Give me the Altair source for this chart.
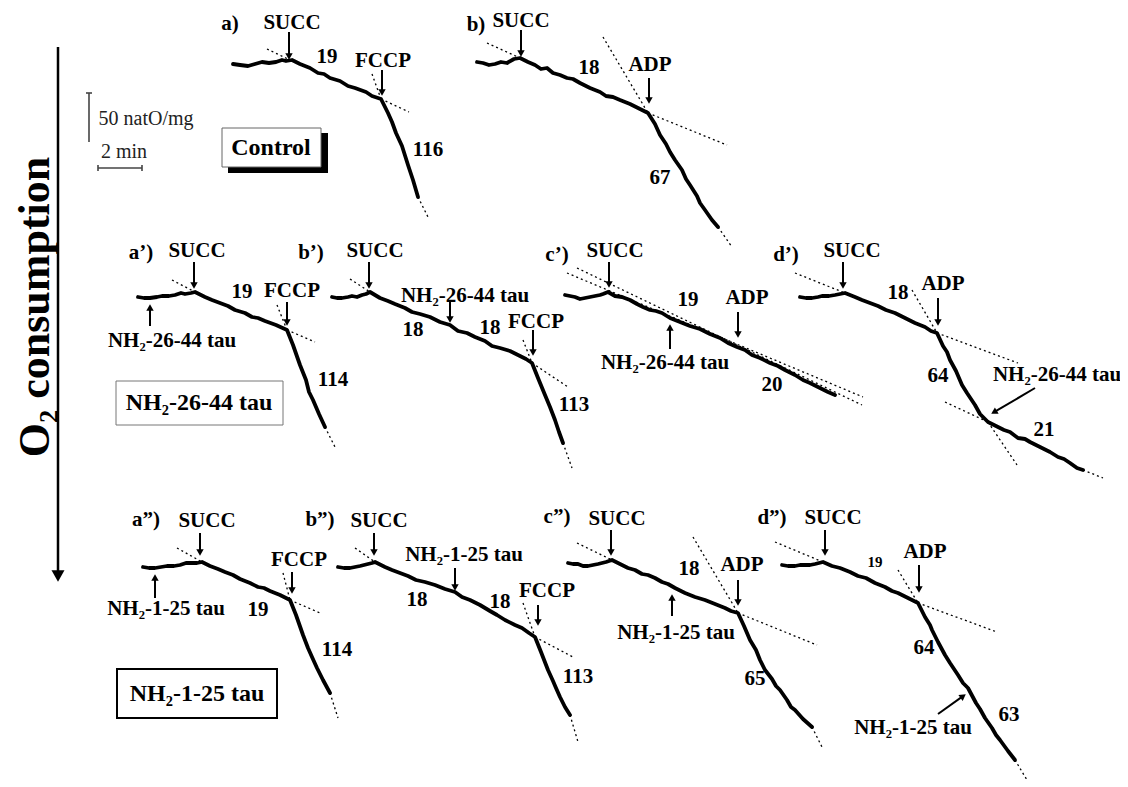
import math
import altair as alt
import pandas as pd

# ---------------- data (figure pixel coordinates) -------------
# O2 electrode traces (x, y) ; y grows downward
TRACE_A = [(233, 64), (240, 65), (248, 66), (255, 64), (262, 62), (269, 63), (276, 62),
           (282, 60), (286, 61), (292, 60),
           (300, 64), (310, 68), (318, 73), (324, 74), (330, 78), (340, 81), (348, 86),
           (355, 88), (366, 92), (372, 96), (381, 99),
           (388, 113), (392, 122), (396, 133), (402, 146), (408, 165), (413, 180), (418, 197)]
TRACE_B = [(477, 62), (483, 63), (489, 65), (495, 64), (501, 62), (507, 63), (514, 59),
           (520, 58),
           (528, 62), (535, 65), (541, 69), (547, 68), (553, 73), (560, 75), (567, 78),
           (573, 79), (580, 83), (590, 88), (600, 92), (606, 96), (613, 97), (620, 100),
           (630, 104), (638, 108), (648, 113),
           (655, 124), (660, 135), (666, 144), (670, 152), (675, 160), (682, 170), (686, 179),
           (690, 185), (697, 196), (700, 203), (705, 210), (712, 220), (718, 227)]
TRACE_A1 = [(138, 297), (144, 298), (150, 298), (157, 297), (162, 296), (169, 296),
            (175, 295), (181, 293), (185, 294), (191, 293), (195, 292),
            (205, 297), (212, 300), (220, 303), (228, 306), (235, 310), (245, 313),
            (252, 317), (258, 318), (265, 321), (276, 325), (287, 330),
            (293, 345), (300, 365), (306, 380), (309, 392), (313, 400), (319, 414), (325, 427)]
TRACE_B1 = [(332, 297), (337, 298), (342, 298), (348, 297), (352, 296), (357, 297),
            (362, 295), (366, 294), (370, 292),
            (380, 298), (388, 301), (395, 304), (405, 308), (412, 312), (420, 314),
            (430, 317), (440, 322), (450, 325), (458, 331), (467, 333), (475, 337),
            (485, 341), (492, 346), (500, 348), (510, 351), (520, 356), (526, 359), (532, 363),
            (538, 378), (545, 395), (550, 407), (555, 420), (559, 432), (563, 443)]
TRACE_C1 = [(565, 295), (570, 296), (575, 297), (580, 299), (585, 298), (590, 297),
            (595, 296), (600, 295), (603, 294), (608, 292),
            (615, 296), (622, 297), (630, 300), (637, 304), (643, 307), (650, 310),
            (656, 311), (662, 313), (670, 318), (680, 322), (690, 326), (700, 329),
            (710, 334), (720, 338), (728, 343), (737, 347),
            (745, 350), (752, 355), (760, 358), (770, 363), (778, 366), (785, 370),
            (795, 375), (803, 380), (810, 383), (820, 388), (828, 392), (835, 395)]
TRACE_D1 = [(800, 297), (806, 298), (812, 298), (818, 297), (822, 296), (829, 296),
            (835, 295), (840, 294), (845, 293),
            (855, 297), (862, 300), (870, 303), (878, 306), (886, 310), (895, 313),
            (905, 318), (915, 323), (925, 327), (931, 331), (937, 333),
            (943, 346), (947, 352), (950, 360), (956, 371), (962, 385), (967, 393),
            (975, 405), (980, 414), (988, 422),
            (996, 426), (1004, 430), (1010, 432), (1018, 438), (1025, 439), (1030, 442),
            (1040, 447), (1050, 452), (1058, 457), (1064, 459), (1070, 463), (1077, 468),
            (1083, 470)]
TRACE_A2 = [(143, 567), (149, 568), (155, 568), (161, 567), (167, 566), (174, 566),
            (180, 565), (186, 563), (192, 563), (197, 563), (202, 562),
            (210, 566), (218, 569), (225, 572), (233, 575), (240, 579), (250, 583),
            (258, 587), (264, 588), (270, 591), (280, 595), (290, 600),
            (296, 615), (303, 635), (308, 648), (312, 657), (317, 668), (323, 680), (330, 693)]
TRACE_B2 = [(338, 567), (344, 568), (350, 568), (355, 567), (360, 566), (364, 565),
            (368, 564), (372, 563), (375, 562),
            (385, 567), (392, 570), (400, 573), (408, 576), (416, 580), (425, 582),
            (435, 585), (445, 589), (455, 592), (462, 597), (470, 600), (480, 605),
            (490, 611), (497, 615), (505, 620), (515, 625), (522, 628), (529, 633), (535, 637),
            (541, 652), (548, 670), (553, 681), (556, 688), (560, 697), (565, 707), (570, 715)]
TRACE_C2 = [(568, 563), (573, 564), (578, 564), (583, 566), (588, 566), (593, 565),
            (598, 564), (602, 563), (606, 562), (612, 560),
            (620, 564), (628, 568), (635, 570), (642, 574), (648, 575), (655, 578),
            (662, 582), (668, 584), (675, 588), (685, 593), (695, 597), (705, 600),
            (715, 604), (725, 608), (731, 611), (738, 613),
            (744, 626), (750, 640), (756, 650), (760, 660), (765, 670), (772, 679),
            (776, 686), (780, 690), (787, 700), (791, 707), (795, 710), (803, 719), (812, 727)]
TRACE_D2 = [(782, 565), (788, 566), (795, 566), (800, 565), (805, 565), (810, 565),
            (815, 564), (819, 563), (823, 562),
            (832, 566), (840, 568), (850, 572), (858, 576), (866, 578), (875, 583),
            (885, 587), (892, 591), (898, 593), (908, 598), (918, 603),
            (925, 617), (930, 625), (932, 630), (938, 642), (945, 655), (950, 663),
            (958, 675), (963, 683), (968, 688),
            (976, 703), (980, 709), (985, 718), (992, 728), (996, 735), (1000, 740),
            (1008, 751), (1015, 760)]
TRACES = {"a": TRACE_A, "b": TRACE_B, "a1": TRACE_A1, "b1": TRACE_B1, "c1": TRACE_C1,
          "d1": TRACE_D1, "a2": TRACE_A2, "b2": TRACE_B2, "c2": TRACE_C2, "d2": TRACE_D2}

# dotted tangent lines (x1, y1, x2, y2)
DOTTED = [
    (267, 49, 292, 61), (381, 99, 409, 112), (372, 74, 381, 99), (418, 197, 428, 217),
    (487, 43, 520, 58), (648, 113, 727, 145), (603, 37, 648, 113), (718, 227, 732, 247),
    (172, 280, 195, 292), (287, 330, 315, 342), (277, 305, 287, 330), (325, 427, 335, 447),
    (350, 279, 370, 292), (532, 363, 568, 387), (523, 340, 532, 363), (563, 443, 572, 468),
    (567, 273, 863, 397), (577, 268, 862, 405),
    (795, 273, 845, 293), (937, 333, 1018, 363), (912, 290, 937, 333),
    (945, 402, 988, 422), (988, 422, 1017, 465), (1083, 470, 1103, 478),
    (177, 548, 202, 562), (290, 600, 320, 613), (283, 573, 290, 600), (330, 693, 338, 718),
    (355, 548, 375, 562), (535, 637, 573, 657), (523, 603, 535, 637), (570, 715, 578, 742),
    (577, 543, 612, 560), (738, 613, 817, 645), (693, 537, 738, 613), (812, 727, 822, 747),
    (775, 542, 823, 562), (918, 603, 997, 632), (898, 570, 918, 603), (1015, 760, 1030, 785),
]

# addition arrows (tail x, tail y, tip x, tip y)
ARROWS = [
    (289, 32, 289, 60), (382, 70, 382, 96),
    (521, 30, 521, 57), (649, 78, 649, 104),
    (194, 262, 194, 289), (287, 302, 287, 326), (150, 326, 150, 304),
    (369, 262, 369, 289), (450, 302, 450, 323), (533, 330, 533, 356),
    (609, 262, 609, 288), (738, 312, 738, 338), (670, 349, 670, 324),
    (843, 262, 843, 289), (938, 298, 938, 326), (1035, 388, 991, 414),
    (200, 533, 200, 556), (292, 572, 292, 594), (155, 598, 155, 574),
    (374, 533, 374, 556), (455, 568, 455, 591), (538, 605, 538, 626),
    (611, 530, 611, 556), (738, 580, 738, 606), (672, 616, 672, 594),
    (825, 530, 825, 556), (919, 565, 919, 593), (938, 714, 966, 694),
]

# bold labels (x center, y center, text, font size)
BOLD_LABELS = [
    (230, 24, "a)", 21), (292, 23, "SUCC", 21), (327, 57, "19", 21), (383, 61, "FCCP", 21),
    (428, 150, "116", 21),
    (476, 25, "b)", 21), (521, 21, "SUCC", 21), (589, 68, "18", 21), (650, 65, "ADP", 21),
    (660, 178, "67", 21),
    (141, 253, "a’)", 21), (197, 251, "SUCC", 21), (242, 292, "19", 21), (292, 291, "FCCP", 21),
    (333, 380, "114", 21), (172, 341, "NH₂-26-44 tau", 21),
    (311, 253, "b’)", 21), (375, 251, "SUCC", 21), (465, 296, "NH₂-26-44 tau", 21),
    (413, 330, "18", 21), (490, 328, "18", 21), (536, 322, "FCCP", 21), (574, 405, "113", 21),
    (557, 255, "c’)", 21), (615, 251, "SUCC", 21), (688, 300, "19", 21), (747, 298, "ADP", 21),
    (665, 363, "NH₂-26-44 tau", 21), (772, 385, "20", 21),
    (786, 255, "d’)", 21), (852, 251, "SUCC", 21), (898, 293, "18", 21), (943, 284, "ADP", 21),
    (938, 376, "64", 21), (1057, 375, "NH₂-26-44 tau", 21), (1044, 430, "21", 21),
    (146, 520, "a”)", 21), (207, 521, "SUCC", 21), (299, 560, "FCCP", 21),
    (166, 609, "NH₂-1-25 tau", 21), (258, 610, "19", 21), (337, 650, "114", 21),
    (320, 520, "b”)", 21), (379, 521, "SUCC", 21), (464, 555, "NH₂-1-25 tau", 21),
    (417, 600, "18", 21), (500, 602, "18", 21), (547, 591, "FCCP", 21), (578, 677, "113", 21),
    (557, 517, "c”)", 21), (617, 519, "SUCC", 21), (689, 569, "18", 21), (742, 565, "ADP", 21),
    (676, 633, "NH₂-1-25 tau", 21), (755, 679, "65", 21),
    (772, 518, "d”)", 21), (833, 518, "SUCC", 21), (875, 562, "19", 15), (925, 552, "ADP", 21),
    (924, 648, "64", 21), (913, 728, "NH₂-1-25 tau", 21), (1009, 715, "63", 21),
    (271, 148, "Control", 24), (199, 403, "NH₂-26-44 tau", 24), (197, 694, "NH₂-1-25 tau", 24),
]
PLAIN_LABELS = [(146, 119, "50 natO/mg", 20), (124, 152, "2 min", 20)]

# scale bars (x1, y1, x2, y2)
SCALE_BARS = [(89, 93, 89, 142), (86, 93, 92, 93),
              (98, 168, 142, 168), (98, 165, 98, 171), (142, 165, 142, 171)]

# label boxes (x1, y1, x2, y2, fill, stroke, stroke width)
BOXES = [(228, 133, 328, 173, "black", "black", 0),
         (222, 128, 321, 167, "white", "#666666", 1),
         (116, 381, 283, 425, "white", "#777777", 1),
         (117, 669, 277, 718, "white", "black", 2)]

# axis arrow and title
AXIS_ARROW = (58, 47, 58, 582)
AXIS_TITLE = (49, 307, "O₂  consumption", 44)

# ----------------------------------------------------------------------------------
W, H = 1112, 771
xs = alt.Scale(domain=[8, 8 + W], nice=False, zero=False)
ys = alt.Scale(domain=[8, 8 + H], nice=False, zero=False, reverse=True)
FONT = "Liberation Serif"

rows = []
for k, pts in TRACES.items():
    for i, (x, y) in enumerate(pts):
        rows.append({"id": k, "i": i, "x": x, "y": y})
trace_df = pd.DataFrame(rows)

dotted_df = pd.DataFrame(DOTTED, columns=["x", "y", "x2", "y2"])

shaft, heads = [], []
for (x1, y1, x2, y2) in ARROWS:
    L = math.hypot(x2 - x1, y2 - y1)
    ux, uy = (x2 - x1) / L, (y2 - y1) / L
    shaft.append({"x": x1, "y": y1, "x2": x2 - ux * 5, "y2": y2 - uy * 5})
    ang = math.degrees(math.atan2(ux, -uy)) % 360
    heads.append({"x": x2 - ux * 3.5, "y": y2 - uy * 3.5, "ang": ang})
shaft_df = pd.DataFrame(shaft)
head_df = pd.DataFrame(heads)

bold_df = pd.DataFrame(BOLD_LABELS, columns=["x", "y", "t", "s"])
plain_df = pd.DataFrame(PLAIN_LABELS, columns=["x", "y", "t", "s"])
bars_df = pd.DataFrame(SCALE_BARS, columns=["x", "y", "x2", "y2"])
box_df = pd.DataFrame(BOXES, columns=["x", "y", "x2", "y2", "fill", "stroke", "sw"])


def X(f="x"):
    return alt.X(f"{f}:Q", scale=xs, axis=None)


def Y(f="y"):
    return alt.Y(f"{f}:Q", scale=ys, axis=None)


layers = []
for _, b in box_df.iterrows():
    d = pd.DataFrame([b])
    layers.append(alt.Chart(d).mark_rect(fill=b["fill"], stroke=b["stroke"],
                                         strokeWidth=float(b["sw"])).encode(
        x=X(), y=Y(), x2="x2:Q", y2="y2:Q"))

layers.append(alt.Chart(dotted_df).mark_rule(color="black", strokeWidth=1.3,
                                             strokeDash=[2, 3]).encode(
    x=X(), y=Y(), x2="x2:Q", y2="y2:Q"))

layers.append(alt.Chart(trace_df).mark_line(color="black", strokeWidth=3.8,
                                            strokeJoin="round", strokeCap="round").encode(
    x=X(), y=Y(), detail="id:N", order="i:Q"))

layers.append(alt.Chart(shaft_df).mark_rule(color="black", strokeWidth=2).encode(
    x=X(), y=Y(), x2="x2:Q", y2="y2:Q"))
layers.append(alt.Chart(head_df).mark_point(shape="triangle-up", filled=True, color="black",
                                            size=55, opacity=1).encode(
    x=X(), y=Y(), angle=alt.Angle("ang:Q", scale=None)))

layers.append(alt.Chart(bars_df).mark_rule(color="#444444", strokeWidth=1.6).encode(
    x=X(), y=Y(), x2="x2:Q", y2="y2:Q"))

ax_df = pd.DataFrame([{"x": AXIS_ARROW[0], "y": AXIS_ARROW[1], "x2": AXIS_ARROW[2],
                       "y2": AXIS_ARROW[3] - 10}])
layers.append(alt.Chart(ax_df).mark_rule(color="black", strokeWidth=2.5).encode(
    x=X(), y=Y(), x2="x2:Q", y2="y2:Q"))
axh_df = pd.DataFrame([{"x": AXIS_ARROW[2], "y": AXIS_ARROW[3] - 6}])
layers.append(alt.Chart(axh_df).mark_point(shape="triangle-down", filled=True, color="black",
                                           size=170, opacity=1).encode(x=X(), y=Y()))

layers.append(alt.Chart(bold_df).mark_text(font=FONT, fontWeight="bold", align="center",
                                           baseline="middle", color="black").encode(
    x=X(), y=Y(), text="t:N", size=alt.Size("s:Q", scale=None)))
layers.append(alt.Chart(plain_df).mark_text(font=FONT, align="center", baseline="middle",
                                            color="#222222").encode(
    x=X(), y=Y(), text="t:N", size=alt.Size("s:Q", scale=None)))

title_df = pd.DataFrame([{"x": AXIS_TITLE[0], "y": AXIS_TITLE[1], "t": AXIS_TITLE[2]}])
layers.append(alt.Chart(title_df).mark_text(font=FONT, fontWeight="bold", fontSize=AXIS_TITLE[3],
                                            angle=270, align="center", baseline="alphabetic",
                                            color="black").encode(x=X(), y=Y(), text="t:N"))

chart = alt.layer(*layers).properties(
    width=W, height=H, padding=0, background="white",
    autosize=alt.AutoSizeParams(type="none")
).configure_view(stroke=None, strokeWidth=0)

chart.save("out.html", embed_options={"renderer": "svg", "actions": False})
